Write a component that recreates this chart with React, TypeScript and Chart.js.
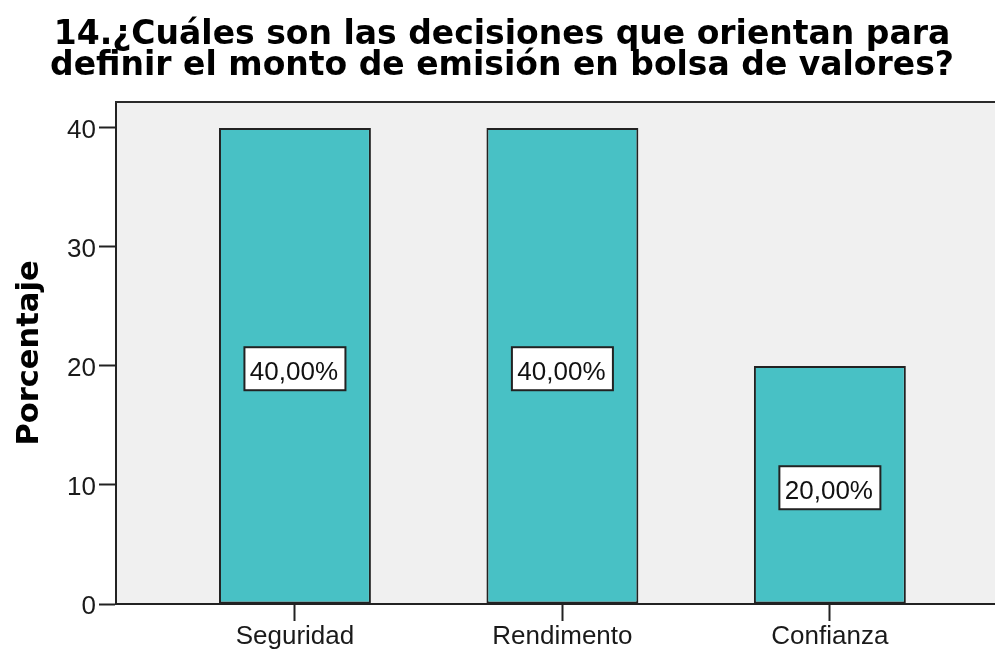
import React, { useEffect, useRef } from 'react';
import { Chart, registerables } from 'chart.js';

Chart.register(...registerables);

const titleLines = [
  '14.¿Cuáles son las decisiones que orientan para',
  'definir el monto de emisión en bolsa de valores?',
];
const categories = ['Seguridad', 'Rendimento', 'Confianza'];
const percentages = [40, 40, 20];
const yTickValues = [0, 10, 20, 30, 40];
const yAxisTitle = 'Porcentaje';

const formatPct = (v: number) => v.toFixed(2).replace('.', ',') + '%';

export default function App() {
  const ref = useRef<HTMLCanvasElement>(null);

  useEffect(() => {
    if (!ref.current) return;

    const plotPlugin = {
      id: 'plotDecor',
      beforeDraw(chart: any) {
        const { ctx, chartArea: a } = chart;
        ctx.save();
        ctx.fillStyle = '#F0F0F0';
        ctx.fillRect(a.left, a.top, a.right - a.left, a.bottom - a.top);
        ctx.restore();
      },
      afterDraw(chart: any) {
        const { ctx, chartArea: a } = chart;
        ctx.save();
        ctx.strokeStyle = '#2a2a2a';
        ctx.lineWidth = 2;
        ctx.beginPath();
        ctx.moveTo(a.left - 1, a.top);
        ctx.lineTo(a.right, a.top);
        ctx.stroke();
        ctx.restore();

        const meta = chart.getDatasetMeta(0);
        meta.data.forEach((bar: any, i: number) => {
          const xc = bar.x;
          const yc = (bar.y + bar.base) / 2 + 3;
          const w = 101;
          const h = 43;
          ctx.save();
          ctx.fillStyle = '#ffffff';
          ctx.fillRect(xc - w / 2, yc - h / 2, w, h);
          ctx.strokeStyle = '#222222';
          ctx.lineWidth = 2;
          ctx.strokeRect(xc - w / 2, yc - h / 2, w, h);
          ctx.fillStyle = '#111111';
          ctx.font = '26px "Liberation Sans", Arial, sans-serif';
          ctx.textAlign = 'center';
          ctx.textBaseline = 'alphabetic';
          ctx.fillText(formatPct(percentages[i]), xc - 1, yc + 11);
          ctx.restore();
        });
      },
    };

    const chart = new Chart(ref.current, {
      type: 'bar',
      data: {
        datasets: [
          {
            data: categories.map((_, i) => ({ x: i, y: percentages[i] })),
            backgroundColor: '#48C1C5',
            borderColor: '#222222',
            borderWidth: 2,
            borderSkipped: false,
            categoryPercentage: 1,
            barPercentage: 0.568,
          },
        ],
      },
      options: {
        responsive: false,
        animation: false,
        layout: { padding: 0 },
        plugins: {
          legend: { display: false },
          tooltip: { enabled: false },
          title: {
            display: true,
            text: titleLines,
            color: '#000000',
            font: { family: '"DejaVu Sans", sans-serif', weight: 'bold', size: 33, lineHeight: 31 / 33 },
            padding: { top: 20, bottom: 20 },
          },
        },
        scales: {
          x: {
            type: 'linear',
            min: -0.669,
            max: 2.651,
            offset: false,
            afterBuildTicks: (scale: any) => {
              scale.ticks = categories.map((_, i) => ({ value: i }));
            },
            afterFit: (scale: any) => {
              scale.height = 46;
            },
            ticks: {
              callback: (v: any) => categories[v] ?? '',
              color: '#1a1a1a',
              font: { family: '"Liberation Sans", Arial, sans-serif', size: 26 },
              padding: 0,
              maxRotation: 0,
              autoSkip: false,
            },
            grid: {
              offset: false,
              drawOnChartArea: false,
              drawTicks: true,
              tickLength: 17,
              tickWidth: 2,
              tickColor: '#222222',
            },
            border: { display: true, color: '#222222', width: 2 },
          },
          y: {
            type: 'linear',
            min: 0,
            max: 42.18,
            afterBuildTicks: (scale: any) => {
              scale.ticks = yTickValues.map((v) => ({ value: v }));
            },
            afterFit: (scale: any) => {
              scale.width = 116;
            },
            ticks: {
              callback: (v: any) => String(v),
              color: '#1a1a1a',
              font: { family: '"Liberation Sans", Arial, sans-serif', size: 26 },
              padding: 3,
              labelOffset: 3,
            },
            grid: {
              drawOnChartArea: false,
              drawTicks: true,
              tickLength: 17,
              tickWidth: 2,
              tickColor: '#222222',
            },
            border: { display: true, color: '#222222', width: 2 },
            title: {
              display: true,
              text: yAxisTitle,
              color: '#000000',
              font: { family: '"DejaVu Sans", sans-serif', weight: 'bold', size: 30.5, lineHeight: 1.2 },
              padding: { top: 12, bottom: 0 },
            },
          },
        },
      },
      plugins: [plotPlugin],
    } as any);

    return () => chart.destroy();
  }, []);

  return (
    <div
      style={{
        position: 'absolute',
        left: 0,
        top: 0,
        width: 995,
        height: 650,
        overflow: 'hidden',
        background: '#ffffff',
      }}
    >
      <canvas ref={ref} width={1004} height={650} style={{ display: 'block' }} />
    </div>
  );
}
